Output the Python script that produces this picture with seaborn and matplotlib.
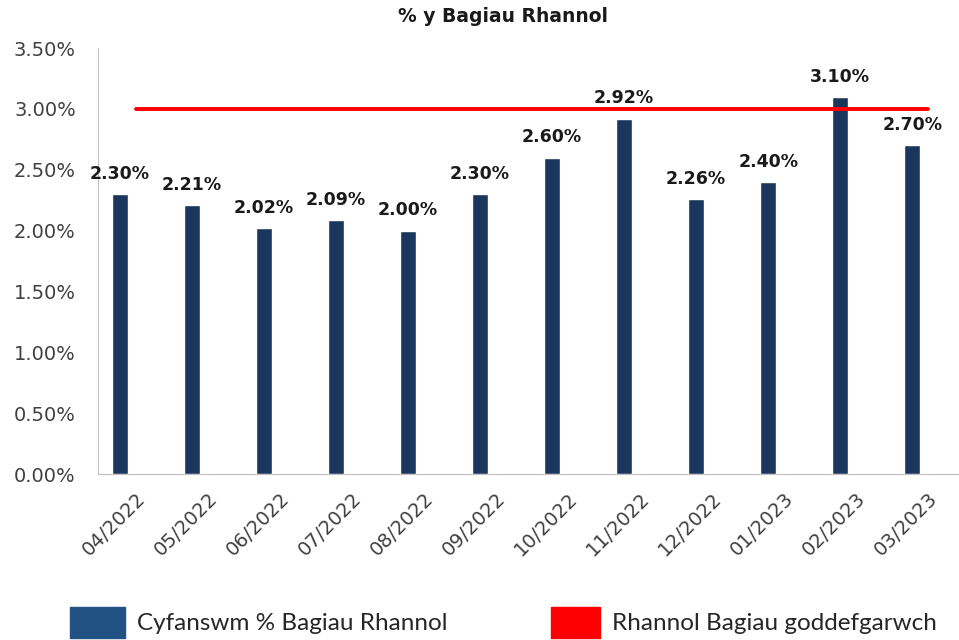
import numpy as np
import pandas as pd
import matplotlib
matplotlib.use('Agg')
import matplotlib.pyplot as plt
import seaborn as sns
from matplotlib.patches import Patch

months = ['04/2022', '05/2022', '06/2022', '07/2022', '08/2022', '09/2022',
          '10/2022', '11/2022', '12/2022', '01/2023', '02/2023', '03/2023']
rhannol = [2.30, 2.21, 2.02, 2.09, 2.00, 2.30, 2.60, 2.92, 2.26, 2.40, 3.10, 2.70]
goddef = [3.00] * 12

sns.set_style('white')
plt.rcParams['font.family'] = ['DejaVu Sans']

df = pd.DataFrame({'mis': months, 'val': rhannol})

fig = plt.figure(figsize=(9.59, 6.4), dpi=100)
ax = fig.add_axes([98 / 959, 166 / 640, 861 / 959, 426 / 640])

sns.barplot(data=df, x='mis', y='val', color='#1b365d', width=0.23,
            saturation=1, ax=ax)

# the line sits on category centres, bars are shifted left within each slot
pos = np.arange(len(months))
centre = pos + 0.22
sns.lineplot(x=centre, y=goddef, color='#ff0000', linewidth=2.8, ax=ax)

for x, v in zip(pos, rhannol):
    ax.annotate(f'{v:.2f}%', xy=(x, v), xytext=(0, 8), textcoords='offset points',
                ha='center', va='bottom', fontsize=12.5, fontweight='bold', color='#1a1a1a')

ax.set_xlim(-0.306, 11.65)
ax.set_ylim(0, 3.5)
ax.set_yticks(np.arange(0, 3.51, 0.5))
ax.set_yticklabels([f'{t:.2f}%' for t in np.arange(0, 3.51, 0.5)], fontsize=14, color='#404040')
ax.tick_params(axis='y', length=0, pad=16)

ax.set_xticks(centre)
ax.set_xticklabels(months, rotation=45, ha='right', rotation_mode='anchor',
                   fontsize=14, color='#404040')
ax.set_xticks(pos - 0.28, minor=True)
ax.tick_params(axis='x', which='major', length=0, pad=11)
ax.tick_params(axis='x', which='minor', length=6, color='#bfbfbf', width=1)

ax.set_xlabel('')
ax.set_ylabel('')
for s in ['top', 'right']:
    ax.spines[s].set_visible(False)
ax.spines['left'].set_color('#bfbfbf')
ax.spines['bottom'].set_color('#bfbfbf')

fig.text(503 / 959, 1 - 17 / 640, '% y Bagiau Rhannol', ha='center', va='center',
         fontsize=13.5, fontweight='bold', color='#1a1a1a')

leg_font = {'family': 'Lato', 'size': 17.5}
fig.legend(handles=[Patch(color='#215283', label='Cyfanswm % Bagiau Rhannol')],
           loc='lower left', bbox_to_anchor=(70 / 959, 2 / 640), frameon=False,
           prop=leg_font, handlelength=2.26, handleheight=1.6,
           handletextpad=0.5, borderpad=0, borderaxespad=0)
fig.legend(handles=[Patch(color='#ff0000', label='Rhannol Bagiau goddefgarwch')],
           loc='lower left', bbox_to_anchor=(551 / 959, 2 / 640), frameon=False,
           prop=leg_font, handlelength=2.0, handleheight=1.6,
           handletextpad=0.53, borderpad=0, borderaxespad=0)

fig.savefig('out.png', dpi=100)
